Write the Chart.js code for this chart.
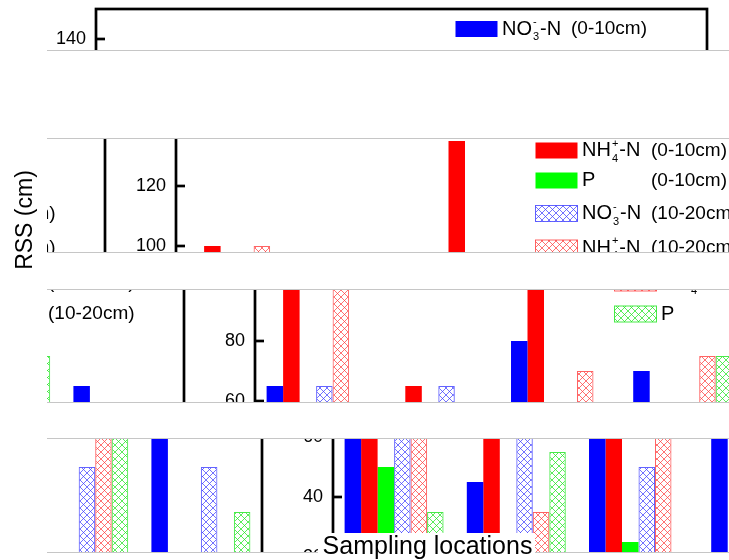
<!DOCTYPE html>
<html>
<head>
<meta charset="utf-8">
<script src="https://cdn.jsdelivr.net/npm/chart.js@4.4.1/dist/chart.umd.min.js"></script>
<style>
  html, body { margin: 0; padding: 0; background: #fff; }
  body { width: 729px; height: 560px; position: relative; overflow: hidden; }
  .view { position: absolute; overflow: hidden; }
  .view canvas { position: absolute; }
  .cut { position: absolute; left: 47px; width: 682px; height: 0; border-top: 1.5px solid #c6c6c6; }
</style>
</head>
<body>
<script>
// values
const locations = ['S1', 'S2', 'S3', 'S4', 'S5'];
const no3Top = [65, 45, 80, 70, 65];
const nh4Top = [100, 65, 135, null, null];
const pTop   = [50, null, 25, null, null];
const no3Sub = [65, 65, 50, 50, 50];
const nh4Sub = [100, 35, 70, 75, null];
const pSub   = [35, 55, null, 75, 35];
const seriesNames  = ['NO_3^--N', 'NH_4^+-N', 'P', 'NO_3^--N', 'NH_4^+-N', 'P'];
const seriesDepths = ['(0-10cm)', '(0-10cm)', '(0-10cm)', '(10-20cm)', '(10-20cm)', '(10-20cm)'];
const yTicks = [20, 40, 60, 80, 100, 120, 140];

const FONT = "'Liberation Sans', Arial, sans-serif";
const W = 729, H = 480;

// the picture is the chart cut in bands, each pushed down and right (wrapping)
const WRAP_L = 47, WRAP_R = 729, PERIOD = WRAP_R - WRAP_L;
const strips = [
  { top: 0,   bottom: 51,  dx: 0,   dy: 0 },
  { top: 139, bottom: 253, dx: 80,  dy: 87 },
  { top: 290, bottom: 403, dx: 159, dy: 122 },
  { top: 439, bottom: 553, dx: 237, dy: 158 }
];
const legendY = [29, 63.5, 93.5, 126.5, 161, 192];

function hatch(ctx, color) {
  const c = document.createElement('canvas');
  c.width = 7; c.height = 7;
  const g = c.getContext('2d');
  g.strokeStyle = color;
  g.lineWidth = 0.9;
  g.beginPath();
  g.moveTo(-1, -1); g.lineTo(8, 8);
  g.moveTo(8, -1); g.lineTo(-1, 8);
  g.stroke();
  return ctx.createPattern(c, 'repeat');
}

// text with _x subscripts and ^x superscripts (sub + sup stacked)
function drawRich(ctx, text, x, y) {
  let cx = x, col = null, i = 0;
  while (i < text.length) {
    const ch = text[i];
    if ((ch === '_' || ch === '^') && i + 1 < text.length) {
      const s = text[i + 1];
      ctx.font = '11px ' + FONT;
      const w = ctx.measureText(s).width + 1;
      const sx = col !== null ? col : cx + 1;
      ctx.fillText(s, sx, y + (ch === '_' ? 8 : -7));
      if (col !== null) { cx = Math.max(cx, sx + w); col = null; }
      else { col = sx; cx = sx + w; }
      i += 2;
    } else {
      ctx.font = '20px ' + FONT;
      ctx.fillText(ch, cx, y);
      cx += ctx.measureText(ch).width;
      col = null;
      i++;
    }
  }
}

const framePlugin = {
  id: 'frame',
  afterDatasetsDraw(chart) {
    const { ctx, chartArea: a } = chart;
    const y = chart.scales.y;
    ctx.save();
    ctx.strokeStyle = '#000';
    ctx.lineWidth = 2.7;
    ctx.strokeRect(a.left, a.top, a.right - a.left, a.bottom - a.top);
    yTicks.forEach(v => {
      const py = y.getPixelForValue(v);
      ctx.beginPath();
      ctx.moveTo(a.left, py);
      ctx.lineTo(a.left + 9, py);
      ctx.stroke();
    });
    ctx.restore();
  }
};

const legendPlugin = {
  id: 'boxLegend',
  afterDraw(chart) {
    const ctx = chart.ctx;
    ctx.save();
    ctx.textBaseline = 'middle';
    chart.data.datasets.forEach((ds, i) => {
      const cy = legendY[i];
      ctx.fillStyle = ds.backgroundColor;
      ctx.fillRect(455.5, cy - 8, 42, 16);
      if (ds.borderWidth) {
        ctx.strokeStyle = ds.borderColor;
        ctx.lineWidth = 1;
        ctx.strokeRect(455.5, cy - 8, 42, 16);
      }
      ctx.fillStyle = '#000';
      drawRich(ctx, seriesNames[i], 502, cy);
      ctx.font = '19px ' + FONT;
      ctx.fillText(seriesDepths[i], 571, cy);
    });
    ctx.restore();
  }
};

function makeConfig(ctx) {
  const solid = (data, color) => ({ data, backgroundColor: color, borderWidth: 0 });
  const hatched = (data, line) => ({
    data, backgroundColor: hatch(ctx, line), borderColor: line, borderWidth: 1
  });
  return {
    type: 'bar',
    data: {
      labels: locations,
      datasets: [
        solid(no3Top, '#0000ff'),
        solid(nh4Top, '#ff0000'),
        solid(pTop, '#00ff00'),
        hatched(no3Sub, 'rgba(60,60,255,0.8)'),
        hatched(nh4Sub, 'rgba(255,60,60,0.8)'),
        hatched(pSub, 'rgba(40,230,40,0.85)')
      ].map(d => Object.assign(d, { barPercentage: 1, categoryPercentage: 0.81 }))
    },
    options: {
      responsive: false,
      animation: false,
      devicePixelRatio: 1,
      events: [],
      layout: { padding: { top: 9, right: 22, bottom: 21, left: 0 } },
      plugins: { legend: { display: false }, tooltip: { enabled: false } },
      scales: {
        x: {
          grid: { display: false, drawTicks: false },
          border: { display: false },
          ticks: { font: { family: FONT, size: 18 }, color: '#000' },
          title: { display: true, text: 'Sampling locations', color: '#000',
                   font: { family: FONT, size: 25 }, padding: 0 },
          afterFit(s) { s.height = 60; s.paddingLeft = 0; s.paddingRight = 0; }
        },
        y: {
          min: 20, max: 150,
          afterBuildTicks(s) { s.ticks = yTicks.map(v => ({ value: v })); },
          grid: { display: false, drawTicks: false },
          border: { display: false },
          ticks: { font: { family: FONT, size: 18 }, color: '#000', padding: 10 },
          title: { display: true, text: 'RSS (cm)', color: '#000',
                   font: { family: FONT, size: 23 }, padding: { top: 12, bottom: 0 } },
          afterFit(s) { s.width = 96; s.paddingTop = 0; s.paddingBottom = 0; }
        }
      }
    },
    plugins: [framePlugin, legendPlugin]
  };
}

function view(left, top, width, height, canvasLeft, canvasTop, bg) {
  if (width <= 0 || height <= 0) return;
  const div = document.createElement('div');
  div.className = 'view';
  Object.assign(div.style, { left: left + 'px', top: top + 'px', width: width + 'px', height: height + 'px' });
  if (bg) div.style.background = bg;
  const cv = document.createElement('canvas');
  cv.width = W; cv.height = H;
  Object.assign(cv.style, { width: W + 'px', height: H + 'px',
                            left: (canvasLeft - left) + 'px', top: (canvasTop - top) + 'px' });
  div.appendChild(cv);
  document.body.appendChild(div);
  new Chart(cv.getContext('2d'), makeConfig(cv.getContext('2d')));
}

// y title column, not cut
view(0, 0, WRAP_L, 560, 0, 16);

strips.forEach(s => {
  const h = s.bottom - s.top;
  view(WRAP_L + s.dx, s.top, WRAP_R - WRAP_L - s.dx, h, s.dx, s.dy);
  view(WRAP_L, s.top, s.dx, h, s.dx - PERIOD, s.dy);
});

[51, 139, 253, 290, 403, 439, 553].forEach(y => {
  const d = document.createElement('div');
  d.className = 'cut';
  d.style.top = (y - 1) + 'px';
  document.body.appendChild(d);
});

// x title box laid over the last band
view(318, 533, 217, 27, 25.5, 103, '#fff');
</script>
</body>
